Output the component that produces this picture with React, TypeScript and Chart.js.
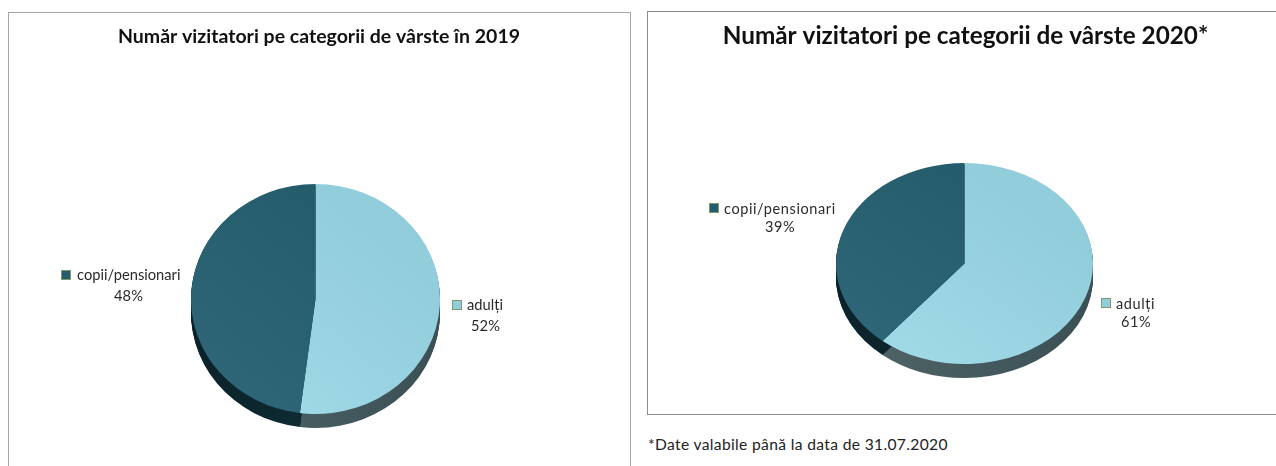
import React, { useEffect, useRef } from "react";
import { Chart, registerables } from "chart.js";

Chart.register(...registerables);

const categories = ["adulți", "copii/pensionari"];
const values2019 = [52, 48];
const values2020 = [61, 39];
const title2019 = "Număr vizitatori pe categorii de vârste în 2019";
const title2020 = "Număr vizitatori pe categorii de vârste 2020*";
const footnote = "*Date valabile până la data de 31.07.2020";

const FONT = "Lato, 'Open Sans', sans-serif";

type Cfg = {
  left: number; top: number; width: number; height: number;
  title: string; titleSize: number; titleTop: number; values: number[];
  cx: number; cy: number; rx: number; ry: number; depth: number;
  labelSize: number; letter: string;
  labels: { mx: number; my: number; tx: number; ty: number; vx: number; vy: number }[];
};

const cfg2019: Cfg = {
  left: 8, top: 12, width: 622, height: 470,
  title: title2019, titleSize: 19.5, titleTop: 13, values: values2019,
  cx: 315.5, cy: 299, rx: 124.5, ry: 115, depth: 14,
  labelSize: 14.7, letter: "0px",
  labels: [
    { mx: 452, my: 300, tx: 467, ty: 305, vx: 485.5, vy: 326 },
    { mx: 61, my: 270, tx: 77, ty: 275, vx: 128.5, vy: 296 },
  ],
};
const cfg2020: Cfg = {
  left: 647, top: 11, width: 637, height: 403,
  title: title2020, titleSize: 24.3, titleTop: 11, values: values2020,
  cx: 964.5, cy: 263.5, rx: 128.5, ry: 100.5, depth: 14,
  labelSize: 14.5, letter: "0.6px",
  labels: [
    { mx: 1101, my: 298, tx: 1116, ty: 304, vx: 1136, vy: 322 },
    { mx: 709, my: 203, tx: 724, ty: 209, vx: 780, vy: 227 },
  ],
};

const topColors = [["#A3DCE9", "#92CDDC"], ["#31687A", "#245C6B"]];
const sideColors = [["#516669", "#3B5055"], ["#0B2229", "#14343D"]];
const legendColors = ["#92CDDC", "#245C6B"];

function PieChart({ c }: { c: Cfg }) {
  const ref = useRef<HTMLCanvasElement>(null);
  useEffect(() => {
    const canvas = ref.current!;
    const localX = c.cx - c.left;
    const localY = c.cy - c.top;
    const lineH = c.titleSize * 1.2;
    // the chart area runs from below the title to the canvas bottom; its centre is the pie's centre
    const titleBottom = Math.max(0, 2 * localY - c.height - c.titleTop - lineH);
    const dx = localX - c.width / 2;
    const sx = c.rx / c.ry;

    const applyTransform = (chart: any, ctx: CanvasRenderingContext2D) => {
      const a = chart.getDatasetMeta(0).data[0];
      ctx.translate(a.x + dx, a.y);
      ctx.scale(sx, 1);
      ctx.translate(-a.x, -a.y);
    };

    const piePlugin = {
      id: "pie3d",
      beforeDatasetsDraw(chart: any) {
        const ctx: CanvasRenderingContext2D = chart.ctx;
        const arcs = chart.getDatasetMeta(0).data;
        ctx.save();
        applyTransform(chart, ctx);
        arcs.forEach((a: any, i: number) => {
          const g = ctx.createLinearGradient(a.x - c.ry, 0, a.x + c.ry, 0);
          g.addColorStop(0, sideColors[i][0]);
          g.addColorStop(1, sideColors[i][1]);
          ctx.fillStyle = g;
          for (let k = c.depth; k >= 1; k--) {
            ctx.beginPath();
            ctx.moveTo(a.x, a.y + k);
            ctx.arc(a.x, a.y + k, a.outerRadius, a.startAngle, a.endAngle);
            ctx.closePath();
            ctx.fill();
          }
        });
        ctx.restore();
      },
      beforeDatasetDraw(chart: any) {
        chart.ctx.save();
        applyTransform(chart, chart.ctx);
      },
      afterDatasetDraw(chart: any) {
        chart.ctx.restore();
      },
      afterDraw(chart: any) {
        const ctx: CanvasRenderingContext2D = chart.ctx;
        ctx.save();
        ctx.font = `${c.labelSize}px ${FONT}`;
        (ctx as any).letterSpacing = c.letter;
        ctx.textBaseline = "middle";
        c.labels.forEach((l, i) => {
          ctx.fillStyle = legendColors[i];
          ctx.strokeStyle = "#7E9A6A";
          ctx.lineWidth = 1;
          ctx.fillRect(l.mx - c.left, l.my - c.top, 9, 9);
          ctx.strokeRect(l.mx - c.left + 0.5, l.my - c.top + 0.5, 9, 9);
          ctx.fillStyle = "#2A2A2A";
          ctx.textAlign = "left";
          ctx.fillText(categories[i], l.tx - c.left, l.ty - c.top);
          ctx.textAlign = "center";
          ctx.fillText(`${c.values[i]}%`, l.vx - c.left, l.vy - c.top);
        });
        ctx.restore();
      },
    };

    const chart = new Chart(canvas, {
      type: "pie",
      data: {
        labels: categories,
        datasets: [
          {
            data: c.values,
            borderWidth: 0,
            radius: c.ry,
            clip: false,
            backgroundColor: (sc: any) => {
              const ch = sc.chart;
              if (!ch.chartArea) return legendColors[sc.dataIndex];
              const mx = (ch.chartArea.left + ch.chartArea.right) / 2;
              const my = (ch.chartArea.top + ch.chartArea.bottom) / 2;
              const g = ch.ctx.createLinearGradient(mx - c.ry, my + c.ry, mx + c.ry * 0.4, my - c.ry * 0.6);
              g.addColorStop(0, topColors[sc.dataIndex][0]);
              g.addColorStop(1, topColors[sc.dataIndex][1]);
              return g;
            },
          } as any,
        ],
      },
      options: {
        responsive: false,
        animation: false,
        plugins: {
          legend: { display: false },
          tooltip: { enabled: false },
          title: {
            display: true,
            text: c.title,
            color: "#111",
            font: { family: FONT, size: c.titleSize, weight: "bold", lineHeight: 1.2 },
            padding: { top: c.titleTop, bottom: titleBottom },
          },
        },
      },
      plugins: [piePlugin as any],
    });
    return () => chart.destroy();
  }, [c]);
  return (
    <canvas
      ref={ref}
      width={c.width}
      height={c.height}
      style={{ position: "absolute", left: c.left, top: c.top, width: c.width, height: c.height }}
    />
  );
}

export default function App() {
  return (
    <div style={{ position: "fixed", left: 0, top: 0, width: 1276, height: 466, overflow: "hidden", background: "#fff" }}>
      <div style={{ position: "absolute", left: 8, top: 12, width: 621, height: 480, border: "1px solid #A6A6A6", boxSizing: "content-box" }} />
      <div style={{ position: "absolute", left: 647, top: 11, width: 660, height: 402, border: "1px solid #8C8C8C", boxSizing: "content-box" }} />
      <PieChart c={cfg2019} />
      <PieChart c={cfg2020} />
      <div style={{ position: "absolute", left: 648, top: 435, fontFamily: FONT, fontSize: 15.6, letterSpacing: "0.35px", color: "#222", whiteSpace: "nowrap", lineHeight: "18px" }}>
        {footnote}
      </div>
    </div>
  );
}
